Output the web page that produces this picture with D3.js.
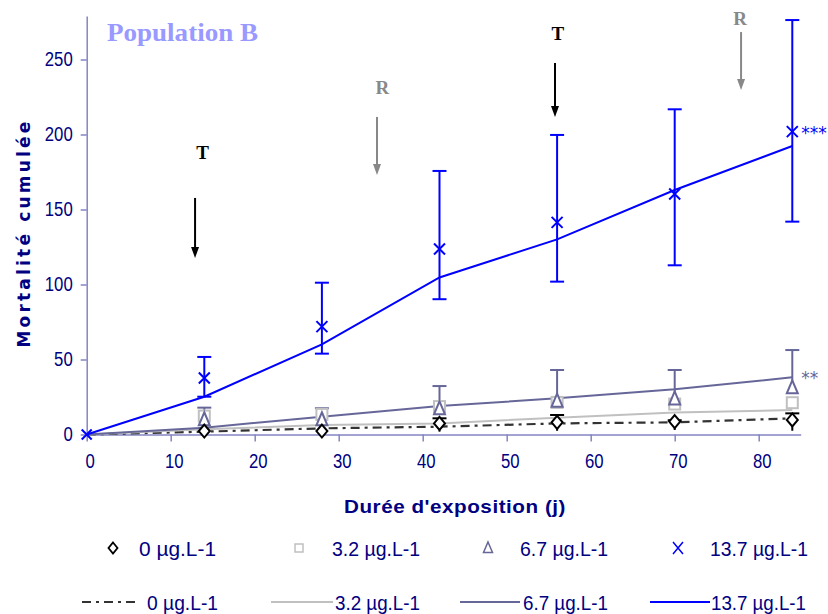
<!DOCTYPE html>
<html><head><meta charset="utf-8">
<script src="https://cdn.jsdelivr.net/npm/d3@7"></script>
<style>body{margin:0;background:#fff}</style>
</head><body><svg id="c" width="828" height="614"></svg>
<script>
const days = [0, 14, 28, 42, 56, 70, 84];
const seriesNames = ["0 µg.L-1", "3.2 µg.L-1", "6.7 µg.L-1", "13.7 µg.L-1"];
// observed points
const obs0 = [0, 2.3, 2.3, 7.4, 8.1, 8.6, 9.7];
const obs32 = [0, 12.3, 13.4, 18.6, 21.4, 20.3, 21.2];
const obs67 = [0, 9.5, 9.5, 16.8, 21.9, 23.4, 30.8];
const obs137 = [0, 37.7, 71.9, 123.7, 141.4, 160.3, 201.9];
// error bars (lower / upper)
const err0Low = [null, null, null, 1.9, 2.5, 3, 2.5];
const err0High = [null, null, null, 10.8, 13, 9.5, 14.1];
const err67High = [null, 17.9, 17.5, 32.3, 43, 43, 56.3];
const err137Low = [null, 25.2, 53.9, 90.2, 101.9, 112.8, 141.9];
const err137High = [null, 51.7, 101.2, 175.7, 199.7, 216.8, 276.3];
// fitted lines
const fit0 = [0, 1.9, 4.1, 5.2, 7.4, 8.1, 10.8];
const fit32 = [0, 3.5, 6.3, 7.4, 11.2, 14.6, 16.3];
const fit67 = [0, 4.5, 11.9, 19, 24.1, 30.1, 38.1];
const fit137 = [0, 25.2, 60.1, 104.7, 130.1, 163, 192.3];
const xTicks = [0, 10, 20, 30, 40, 50, 60, 70, 80];
const yTicks = [0, 50, 100, 150, 200, 250];
// treatment annotations: label, day, arrow top, arrow bottom, label value
const annLabels = ["T", "R", "T", "R"];
const annDay = [12.9, 34.56, 55.75, 77.9];
const annTop = [157.7, 211.7, 247.7, 268.3];
const annBottom = [117.7, 173, 211.7, 229.7];
const annLabelY = [183.5, 227.3, 263.3, 273];
const annLabelDay = [13.8, 35.2, 56.1, 77.8];

const svg = d3.select("#c");
const x = d3.scaleLinear().domain([0, 85]).range([86.7, 800.7]);
const y = d3.scaleLinear().domain([0, 279]).range([434.5, 16]);
const axisCol = "#8484c4";
const navy = "#000080";
const narrow = "'Liberation Sans',Arial,sans-serif";
const charW = 9.3;

// axes
const xa = svg.append("g").attr("transform", `translate(0,${y(0)})`)
  .call(d3.axisBottom(x).tickValues(xTicks).tickSize(7).tickPadding(12).tickSizeOuter(0));
const ya = svg.append("g").attr("transform", `translate(${x(0)},0)`)
  .call(d3.axisLeft(y).tickValues(yTicks).tickSize(6).tickPadding(8).tickSizeOuter(0));
[xa, ya].forEach(a => {
  a.selectAll("path,line").attr("stroke", axisCol).attr("stroke-width", 1.5);
  a.selectAll("text").attr("fill", navy).style("font-family", narrow).style("font-size", "20px")
    .attr("textLength", function () { return this.textContent.length * charW; })
    .attr("lengthAdjust", "spacingAndGlyphs");
});
xa.selectAll("text").attr("dx", 3);

// axis titles
svg.append("text").attr("x", 455).attr("y", 513).attr("text-anchor", "middle")
  .attr("fill", navy).style("font-family", "'Liberation Sans',sans-serif").style("font-weight", "bold")
  .style("font-size", "19px").attr("textLength", 222).attr("lengthAdjust", "spacingAndGlyphs")
  .style("letter-spacing", "0.5px").text("Durée d'exposition (j)");
svg.append("text").attr("transform", "translate(30,233) rotate(-90)").attr("text-anchor", "middle")
  .attr("fill", navy).style("font-family", "'DejaVu Sans',sans-serif").style("font-weight", "bold")
  .style("font-size", "17px").style("letter-spacing", "3.2px").text("Mortalité cumulée");

// title
svg.append("text").attr("x", 107).attr("y", 41).attr("fill", "#9999ff")
  .style("font-family", "'Liberation Serif',serif").style("font-weight", "bold").style("font-size", "26px")
  .attr("textLength", 151).attr("lengthAdjust", "spacingAndGlyphs")
  .text("Population B");

// lines
const lineGen = d3.line().x((d, i) => x(days[i])).y(d => y(d));
const fits = [
  {v: fit0, c: "#333333", w: 2.2, dash: "9,5,3,5"},
  {v: fit32, c: "#c0c0c0", w: 2},
  {v: fit67, c: "#666699", w: 2},
  {v: fit137, c: "#0000ff", w: 2}
];
fits.forEach(f => {
  svg.append("path").datum(f.v).attr("d", lineGen).attr("fill", "none")
    .attr("stroke", f.c).attr("stroke-width", f.w).attr("stroke-dasharray", f.dash || null);
});

// error bars
function errBars(low, high, color, capLow) {
  days.forEach((d, i) => {
    if (high[i] == null) return;
    const base = low ? low[i] : null;
    const g = svg.append("g").attr("stroke", color).attr("stroke-width", 2);
    const yBottom = base != null ? y(base) : null;
    g.append("line").attr("x1", x(d)).attr("x2", x(d))
      .attr("y1", y(high[i])).attr("y2", yBottom != null ? yBottom : y(high[i]) + 1);
    g.append("line").attr("x1", x(d) - 7).attr("x2", x(d) + 7).attr("y1", y(high[i])).attr("y2", y(high[i]));
    if (capLow && base != null)
      g.append("line").attr("x1", x(d) - 7).attr("x2", x(d) + 7).attr("y1", y(base)).attr("y2", y(base));
  });
}
errBars(obs67, err67High, "#666699", false);
errBars(err0Low, err0High, "#000000", false);
errBars(err137Low, err137High, "#0000ff", true);

// markers
function drawMarkers(vals, fn) {
  vals.forEach((v, i) => { if (i > 0) fn(x(days[i]), y(v)); });
}
drawMarkers(obs32, (cx, cy) => svg.append("rect").attr("x", cx - 5.5).attr("y", cy - 5.5)
  .attr("width", 11).attr("height", 11).attr("fill", "#fff").attr("stroke", "#c0c0c0").attr("stroke-width", 2));
drawMarkers(obs67, (cx, cy) => svg.append("path")
  .attr("d", `M${cx},${cy - 8}L${cx + 5.5},${cy + 5}L${cx - 5.5},${cy + 5}Z`)
  .attr("fill", "#fff").attr("stroke", "#666699").attr("stroke-width", 2));
drawMarkers(obs0, (cx, cy) => svg.append("path")
  .attr("d", `M${cx},${cy - 6.5}L${cx + 5.5},${cy}L${cx},${cy + 6.5}L${cx - 5.5},${cy}Z`)
  .attr("fill", "#fff").attr("stroke", "#000").attr("stroke-width", 2));
const cross = (cx, cy, s) => svg.append("path")
  .attr("d", `M${cx - s},${cy - s}L${cx + s},${cy + s}M${cx - s},${cy + s}L${cx + s},${cy - s}`)
  .attr("stroke", "#0000ff").attr("stroke-width", 2).attr("fill", "none");
drawMarkers(obs137, (cx, cy) => cross(cx, cy, 5.5));
cross(x(0), y(0), 5);

// significance
svg.append("text").attr("x", x(84) + 9).attr("y", y(obs137[6]) + 7).attr("fill", "#0000ff")
  .style("font-family", "'DejaVu Sans',sans-serif").style("font-size", "17px").text("***");
svg.append("text").attr("x", x(84) + 9).attr("y", y(obs67[6]) - 4).attr("fill", "#666699")
  .style("font-family", "'DejaVu Sans',sans-serif").style("font-size", "17px").text("**");

// annotations
annLabels.forEach((lab, i) => {
  const col = lab === "T" ? "#000" : "#888888";
  const ax = x(annDay[i]);
  svg.append("line").attr("x1", ax).attr("x2", ax).attr("y1", y(annTop[i])).attr("y2", y(annBottom[i]) - 10)
    .attr("stroke", col).attr("stroke-width", 2);
  svg.append("path").attr("d", `M${ax - 4},${y(annBottom[i]) - 11}L${ax + 4},${y(annBottom[i]) - 11}L${ax},${y(annBottom[i])}Z`)
    .attr("fill", col);
  svg.append("text").attr("x", x(annLabelDay[i])).attr("y", y(annLabelY[i])).attr("text-anchor", "middle")
    .attr("fill", col).style("font-family", "'Liberation Serif',serif").style("font-weight", "bold")
    .style("font-size", "19px").text(lab);
});

// legend
const legMX = [113, 299, 488, 678];
const legMT = [139, 332, 520, 710];
const legLX1 = [82, 271, 460, 650];
const legLX2 = [137, 333, 520, 710];
const legLT = [147, 335, 523, 711];
const legW = [77, 88, 88, 98];
const markerFns = [
  (cx, cy) => svg.append("path").attr("d", `M${cx},${cy - 5.5}L${cx + 4.5},${cy}L${cx},${cy + 5.5}L${cx - 4.5},${cy}Z`)
    .attr("fill", "#fff").attr("stroke", "#000").attr("stroke-width", 1.8),
  (cx, cy) => svg.append("rect").attr("x", cx - 4).attr("y", cy - 4).attr("width", 8).attr("height", 8)
    .attr("fill", "#fff").attr("stroke", "#c0c0c0").attr("stroke-width", 1.5),
  (cx, cy) => svg.append("path").attr("d", `M${cx},${cy - 6}L${cx + 4.5},${cy + 4.5}L${cx - 4.5},${cy + 4.5}Z`)
    .attr("fill", "#fff").attr("stroke", "#666699").attr("stroke-width", 1.5),
  (cx, cy) => svg.append("path").attr("d", `M${cx - 5},${cy - 6}L${cx + 5},${cy + 6}M${cx - 5},${cy + 6}L${cx + 5},${cy - 6}`)
    .attr("stroke", "#0000ff").attr("stroke-width", 1.5)
];
seriesNames.forEach((n, i) => {
  markerFns[i](legMX[i], 548);
  svg.append("text").attr("x", legMT[i]).attr("y", 556).attr("fill", navy)
    .style("font-family", narrow).style("font-size", "20px")
    .attr("textLength", legW[i]).attr("lengthAdjust", "spacingAndGlyphs").text(n);
  svg.append("line").attr("x1", legLX1[i]).attr("x2", legLX2[i]).attr("y1", 602).attr("y2", 602)
    .attr("stroke", fits[i].c).attr("stroke-width", fits[i].w).attr("stroke-dasharray", fits[i].dash || null);
  svg.append("text").attr("x", legLT[i]).attr("y", 610).attr("fill", navy)
    .style("font-family", narrow).style("font-size", "20px")
    .attr("textLength", legW[i] - (i === 0 ? 6 : 3)).attr("lengthAdjust", "spacingAndGlyphs").text(n);
});
</script></body></html>
